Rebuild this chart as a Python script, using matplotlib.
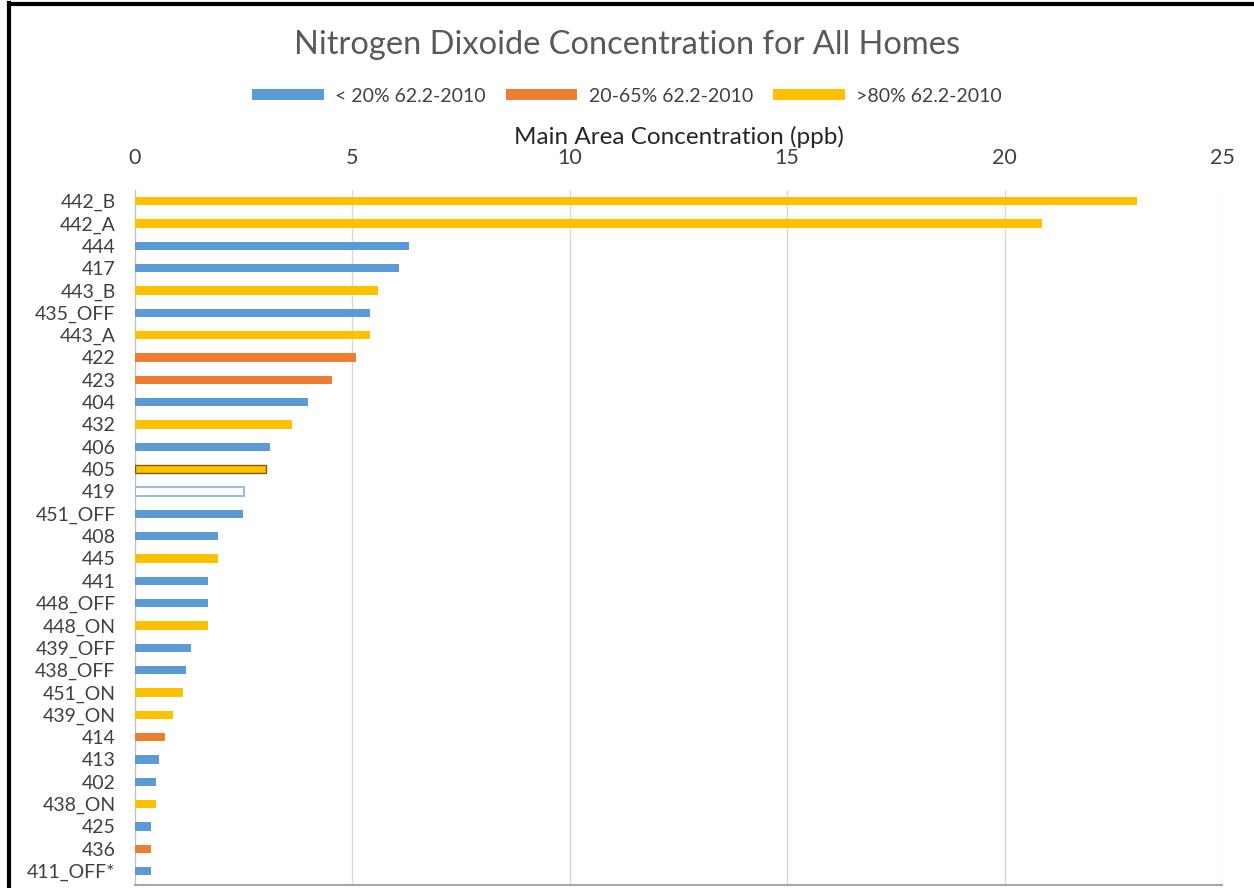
import matplotlib.pyplot as plt
from matplotlib.patches import Patch
from matplotlib.lines import Line2D

plt.rcParams['font.family'] = ['Lato', 'DejaVu Sans']

homes = ['442_B', '442_A', '444', '417', '443_B', '435_OFF', '443_A', '422', '423',
         '404', '432', '406', '405', '419', '451_OFF', '408', '445', '441', '448_OFF',
         '448_ON', '439_OFF', '438_OFF', '451_ON', '439_ON', '414', '413', '402',
         '438_ON', '425', '436', '411_OFF*']
no2 = [23.04, 20.85, 6.31, 6.08, 5.6, 5.4, 5.4, 5.09, 4.52,
       3.99, 3.6, 3.11, 3.02, 2.51, 2.49, 1.91, 1.91, 1.68, 1.68,
       1.68, 1.29, 1.18, 1.11, 0.88, 0.69, 0.55, 0.48,
       0.48, 0.37, 0.37, 0.37]
# 0 = < 20%, 1 = 20-65%, 2 = >80%
group = [2, 2, 0, 0, 2, 0, 2, 1, 1,
         0, 2, 0, 2, 0, 0, 0, 2, 0, 0,
         2, 0, 0, 2, 2, 1, 0, 0,
         2, 0, 1, 0]
group_names = ['< 20% 62.2-2010', '20-65% 62.2-2010', '>80% 62.2-2010']
colors = ['#5B9BD5', '#ED7D31', '#FFC000']

fig = plt.figure(figsize=(12.54, 8.88), dpi=100)
ax = fig.add_axes([135 / 1254, 3 / 888, (1222 - 135) / 1254, (888 - 190 - 3) / 888])

y = list(range(len(homes)))
face = [colors[g] for g in group]
edge = list(face)
lw = [0] * len(homes)
# odd formatting in the original: 405 outlined dark, 419 hollow
i405 = homes.index('405')
edge[i405] = '#7F6000'
lw[i405] = 1.0
i419 = homes.index('419')
face[i419] = 'white'
edge[i419] = '#8FB6DA'
lw[i419] = 1.3

ax.barh(y, no2, height=0.36, color=face, edgecolor=edge, linewidth=lw, zorder=3)

ax.set_xlim(0, 25)
ax.set_ylim(30.62, -0.5)
ax.set_xticks([0, 5, 10, 15, 20, 25])
ax.set_yticks(y)
ax.set_yticklabels(homes)
ax.xaxis.tick_top()
ax.xaxis.set_label_position('top')
ax.tick_params(axis='x', length=0, labelsize=15.5, labelcolor='#404040', pad=16)
ax.tick_params(axis='y', length=0, labelsize=14, labelcolor='#404040', pad=14)
ax.set_xlabel('Main Area Concentration (ppb)', fontsize=17.5, color='#262626', labelpad=3)
ax.grid(axis='x', color='#D9D9D9', linewidth=1, zorder=0)
for s in ['top', 'right']:
    ax.spines[s].set_visible(False)
ax.spines['left'].set_color('#BFBFBF')
ax.spines['bottom'].set_color('#A6A6A6')
ax.spines['bottom'].set_linewidth(1.5)

fig.text(0.5, 1 - 45 / 888, 'Nitrogen Dixoide Concentration for All Homes', ha='center',
         va='center', fontsize=23.5, color='#595959')

handles = [Patch(facecolor=c, edgecolor='none') for c in colors]
fig.legend(handles, group_names, loc='center', bbox_to_anchor=(0.5, 1 - 96 / 888), ncol=3,
           frameon=False, fontsize=14, handlelength=3.7, handleheight=0.55,
           columnspacing=1.0, handletextpad=0.6, labelcolor='#404040')

# black frame on the left and top edges
fig.add_artist(Line2D([9 / 1254, 9 / 1254], [0, 1 - 3 / 888], color='black', linewidth=3,
                      transform=fig.transFigure))
fig.add_artist(Line2D([9 / 1254, 1], [1 - 4 / 888, 1 - 4 / 888], color='black', linewidth=3,
                      transform=fig.transFigure))

fig.savefig('out.png', dpi=100)
